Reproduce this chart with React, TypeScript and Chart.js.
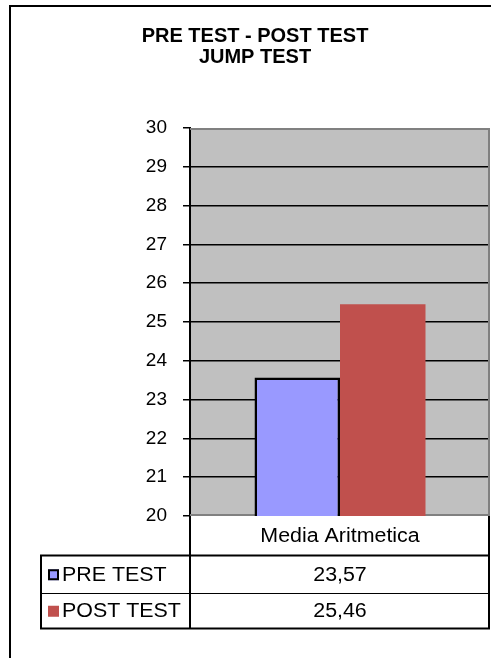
import { useEffect, useRef } from "react";
import { Chart, registerables } from "chart.js";

Chart.register(...registerables);

// ---- data ----
const categories = ["Media Aritmetica"];
const seriesNames = ["PRE TEST", "POST TEST"];
const preTest = [23.57];
const postTest = [25.46];
const titleLines = ["PRE TEST - POST TEST", "JUMP TEST"];
const yMin = 20;
const yMax = 30;
const yStep = 1;

const FONT = "'Liberation Sans', Arial, sans-serif";
const seriesColors = ["#9999FF", "#C0504D"];
const seriesBorders = [2.5, 0];

const fmt = (v: number) => v.toFixed(2).replace(".", ",");

function stretchText(ctx: CanvasRenderingContext2D, text: string, x: number, y: number, align: CanvasTextAlign) {
  ctx.save();
  ctx.translate(x, y);
  ctx.scale(1.07, 1);
  ctx.textAlign = align;
  ctx.fillText(text, 0, 0);
  ctx.restore();
}

const framePlugin = {
  id: "frameTable",
  beforeDraw(chart: any) {
    const { ctx, chartArea: a } = chart;
    ctx.save();
    ctx.fillStyle = "#ffffff";
    ctx.fillRect(0, 0, chart.width, chart.height);
    ctx.fillStyle = "#C0C0C0";
    ctx.fillRect(a.left, a.top, a.right - a.left, a.bottom - a.top);
    ctx.restore();
  },
  beforeDatasetsDraw(chart: any) {
    const { ctx, chartArea: a } = chart;
    ctx.save();
    ctx.strokeStyle = "#808080";
    ctx.lineWidth = 2;
    ctx.beginPath();
    ctx.moveTo(a.left, a.top + 1);
    ctx.lineTo(a.right - 1, a.top + 1);
    ctx.lineTo(a.right - 1, a.bottom - 1);
    ctx.lineTo(a.left, a.bottom - 1);
    ctx.stroke();
    ctx.restore();
  },
  afterDraw(chart: any) {
    const { ctx, chartArea: a } = chart;
    const rowH = 37.5;
    const legendLeft = a.left - 150;
    const right = a.right;
    const yHead = a.bottom;
    const yR1 = yHead + 39.5;
    const yR2 = yR1 + rowH;
    const yEnd = yR2 + 35.5;
    const midX = (a.left + a.right) / 2;
    ctx.save();
    // outer frame
    ctx.strokeStyle = "#000";
    ctx.lineWidth = 2;
    ctx.beginPath();
    ctx.moveTo(10, chart.height);
    ctx.lineTo(10, 6);
    ctx.lineTo(chart.width, 6);
    ctx.stroke();

    // table lines
    ctx.lineWidth = 2;
    ctx.beginPath();
    ctx.moveTo(a.left, yHead);
    ctx.lineTo(a.left, yEnd);
    ctx.moveTo(right - 1, yHead);
    ctx.lineTo(right - 1, yEnd);
    ctx.moveTo(legendLeft + 1, yR1);
    ctx.lineTo(legendLeft + 1, yEnd);
    ctx.moveTo(legendLeft, yR1);
    ctx.lineTo(right, yR1);
    ctx.moveTo(legendLeft, yEnd);
    ctx.lineTo(right, yEnd);
    ctx.stroke();
    ctx.lineWidth = 1;
    ctx.beginPath();
    ctx.moveTo(legendLeft, yR2 + 0.5);
    ctx.lineTo(right, yR2 + 0.5);
    ctx.stroke();

    // text
    ctx.fillStyle = "#000";
    ctx.font = `20px ${FONT}`;
    ctx.textBaseline = "middle";
    stretchText(ctx, categories[0], midX, (yHead + yR1) / 2 + 1, "center");
    const rows = [preTest, postTest];
    const rowTops = [yR1, yR2];
    const rowBots = [yR2, yEnd];
    rows.forEach((vals, i) => {
      const cy = (rowTops[i] + rowBots[i]) / 2 + 1;
      ctx.fillStyle = "#000";
      stretchText(ctx, fmt(vals[0]), midX, cy, "center");
      // legend key
      const kx = legendLeft + 8;
      const ky = cy - 6;
      ctx.fillStyle = seriesColors[i];
      ctx.fillRect(kx, ky, 11, 11);
      if (seriesBorders[i]) {
        ctx.strokeStyle = "#000";
        ctx.lineWidth = 2;
        ctx.strokeRect(kx + 1, ky + 1, 9, 9);
      }
      ctx.fillStyle = "#000";
      stretchText(ctx, seriesNames[i], legendLeft + 22, cy, "left");
    });
    ctx.restore();
  },
};

export default function App() {
  const ref = useRef<HTMLCanvasElement | null>(null);
  useEffect(() => {
    if (!ref.current) return;
    const chart = new Chart(ref.current, {
      type: "bar",
      data: {
        labels: categories,
        datasets: [
          {
            label: seriesNames[0],
            data: preTest,
            backgroundColor: seriesColors[0],
            borderColor: "#000",
            borderWidth: seriesBorders[0],
          },
          {
            label: seriesNames[1],
            data: postTest,
            backgroundColor: seriesColors[1],
            borderColor: "#000",
            borderWidth: seriesBorders[1],
          },
        ],
      },
      options: {
        responsive: false,
        animation: false,
        devicePixelRatio: 1,
        layout: { padding: { left: 20, right: 1, top: 0, bottom: 142 } },
        datasets: { bar: { categoryPercentage: 0.57, barPercentage: 1 } },
        plugins: {
          legend: { display: false },
          tooltip: { enabled: false },
          title: {
            display: true,
            text: titleLines,
            color: "#000",
            font: { family: FONT, size: 20, weight: "bold", lineHeight: 1.05 },
            padding: { top: 26, bottom: 60 },
          },
        },
        scales: {
          x: { display: false },
          y: {
            min: yMin,
            max: yMax,
            afterFit: (scale: any) => {
              scale.width = 170;
            },
            ticks: {
              stepSize: yStep,
              color: "#000",
              padding: 16,
              font: { family: FONT, size: 19 },
            },
            grid: {
              color: (c: any) =>
                c.tick && (c.tick.value === yMax || c.tick.value === yMin)
                  ? "rgba(0,0,0,0)"
                  : "#000",
              tickColor: "#000",
              tickLength: 7,
              lineWidth: 1.5,
            },
            border: { display: true, color: "#000", width: 2 },
          },
        },
      },
      plugins: [framePlugin],
    });
    return () => chart.destroy();
  }, []);
  return (
    <div style={{ position: "fixed", left: 0, top: 0, width: 491, height: 658, background: "#fff" }}>
      <canvas ref={ref} width={491} height={658} style={{ display: "block" }} />
    </div>
  );
}
